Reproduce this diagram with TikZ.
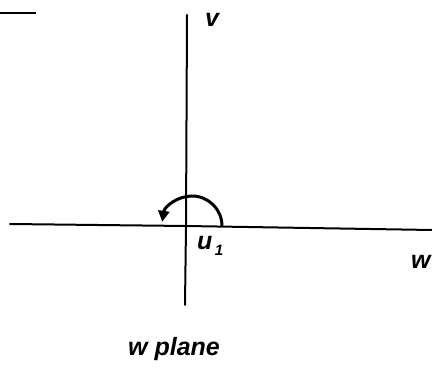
\documentclass[tikz,border=0pt]{standalone}
\usepackage{fontspec}
\setmainfont{Liberation Sans}
\usetikzlibrary{arrows.meta}
\begin{document}
\begin{tikzpicture}[x=1pt,y=-1pt,
  axis/.style={line width=2pt,line cap=round},
  lbl/.style={font=\itshape\bfseries\fontsize{25}{27}\selectfont,inner sep=0pt}]
\useasboundingbox (0,0) rectangle (432,377);
\coordinate (O) at (186,226);
\coordinate (hl) at (10,224);
\coordinate (hr) at (432,230);
\coordinate (vt) at (187,15);
\coordinate (vb) at (185,305);
\draw[axis] (hl) -- (O) -- (hr);
\draw[axis] (vt) -- (O) -- (vb);
\draw[line width=2.6pt] (0,13) -- (36,13);
\draw[line width=3pt,-{Triangle[length=11pt,width=11pt]}]
  (222,226) arc[start angle=0,end angle=-172,radius=30];
\node[lbl] (v) at (212,20) {v};
\node[lbl,anchor=west] (u) at (197,246) {u\raisebox{-6pt}{\fontsize{15}{15}\selectfont\,1}};
\node[lbl,anchor=west] (w) at (411,262) {w};
\node[lbl] (wp) at (174,349) {w plane};
\end{tikzpicture}
\end{document}
